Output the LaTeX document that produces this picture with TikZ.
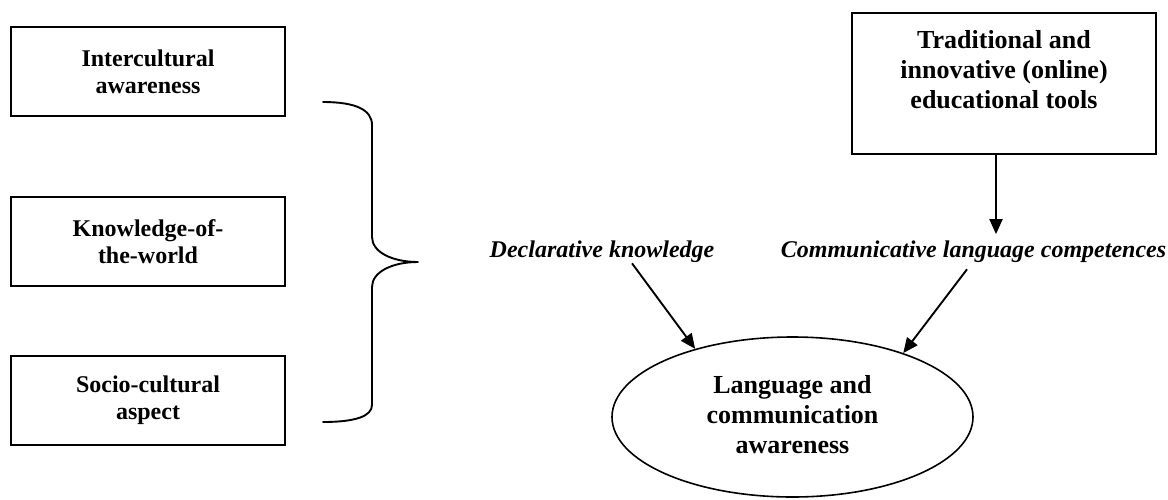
\documentclass[tikz,border=0pt]{standalone}
\usepackage{fontspec}
\setmainfont{Liberation Serif}
\usetikzlibrary{arrows.meta,shapes.geometric}
\begin{document}
\begin{tikzpicture}[x=1pt,y=-1pt,
  leftbox/.style={draw, line width=1.9pt, rectangle, inner sep=0pt, align=center,
    minimum width=274pt, minimum height=89pt,
    font=\fontsize{24}{27}\selectfont\bfseries},
  bigtext/.style={inner sep=0pt, align=center, font=\fontsize{26}{30}\selectfont\bfseries},
  lbl/.style={inner sep=0pt, font=\fontsize{24}{28}\selectfont\bfseries\itshape},
  arr/.style={line width=1.9pt, -{Triangle[length=15pt,width=13pt]}},
  bracestyle/.style={line width=1.9pt, line cap=round, line join=round}]
\useasboundingbox (0,0) rectangle (1168,499);

% left boxes
\node[leftbox] (ica) at (148,71.5) {Intercultural\\awareness};
\node[leftbox] (kow) at (148,241.5) {Knowledge-of-\\the-world};
\node[leftbox] (sca) at (148,400.5) {Socio-cultural\\aspect};

% brace
\draw[bracestyle] (323,102) .. controls (356,102) and (372,110) .. (372,125)
  -- (372,237) .. controls (372,252) and (392,262) .. (418,262)
  .. controls (392,262) and (372,272) .. (372,287)
  -- (372,405) .. controls (372,416) and (356,422) .. (323,422);

% top right box
\node[draw, line width=1.9pt, rectangle, minimum width=304pt, minimum height=141pt, inner sep=0pt]
  (tools) at (1004,83.5) {};
\node[bigtext] (toolstext) at (1004,70) {Traditional and\\innovative (online)\\educational tools};

% labels
\node[lbl, anchor=base] (decl) at (602,257) {Declarative knowledge};
\node[lbl, anchor=base] (comm) at (973.5,257) {Communicative language competences};

% ellipse
\node[draw, ellipse, line width=1.6pt, minimum width=361pt, minimum height=160pt, inner sep=0pt]
  (lang) at (792.5,417) {};
\node[bigtext] (langtext) at (792.5,415) {Language and\\communication\\awareness};

% arrows
\draw[arr] ([xshift=-8pt]tools.south) -- ([xshift=-8pt,yshift=6pt]tools.south |- comm.north);
\draw[arr] ([xshift=30pt,yshift=-1pt]decl.south) -- (lang.145.8);
\draw[arr] ([xshift=-6.5pt,yshift=-7pt]comm.south) -- (lang.30.7);
\end{tikzpicture}
\end{document}
